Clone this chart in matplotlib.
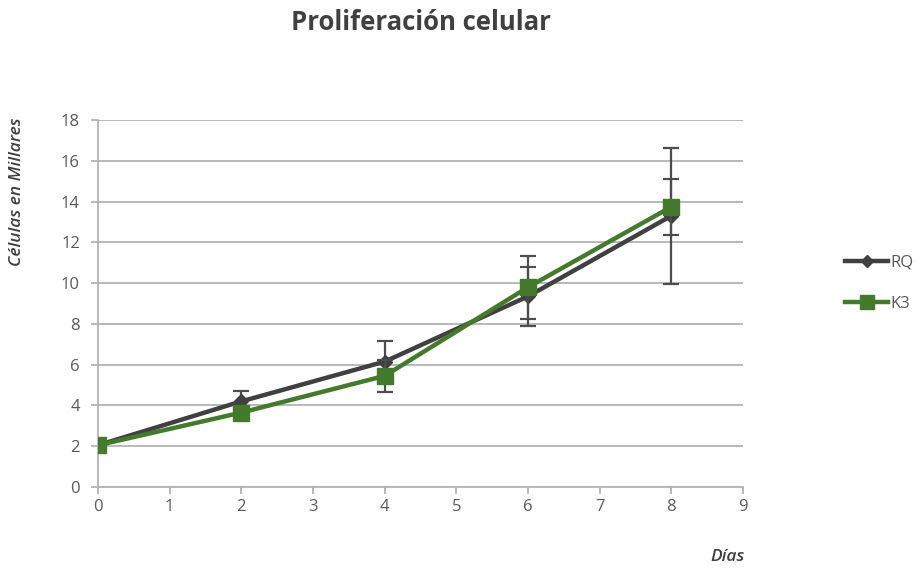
import matplotlib.pyplot as plt
from matplotlib.lines import Line2D

# datos
dias = [0, 2, 4, 6, 8]
rq = [2.05, 4.2, 6.15, 9.35, 13.3]
rq_err = [0.1, 0.5, 1.0, 1.45, 3.35]
k3 = [2.05, 3.65, 5.45, 9.8, 13.74]
k3_err = [0.05, 0.2, 0.8, 1.55, 1.39]

gris = '#404040'
verde = '#437a2b'
texto = '#595959'

plt.rcParams['font.family'] = ['Open Sans', 'DejaVu Sans']

fig = plt.figure(figsize=(9.17, 5.69), dpi=100)
ax = fig.add_axes([98 / 917, 1 - 487 / 569, (743 - 98) / 917, (487 - 120) / 569])

ax.errorbar(dias, rq, yerr=rq_err, color=gris, lw=3.2, marker='D', ms=7,
            ecolor='#4d4d4d', elinewidth=1.6, capsize=6, capthick=1.6, zorder=3)
ax.errorbar(dias, k3, yerr=k3_err, color=verde, lw=3.2, marker='s', ms=11,
            ecolor='#4d4d4d', elinewidth=1.6, capsize=6, capthick=1.6, zorder=4)

ax.set_xlim(0, 9)
ax.set_ylim(0, 18)
ax.set_xticks(range(10))
ax.set_yticks(range(0, 19, 2))
ax.yaxis.grid(True, color='#b3b3b3', lw=1.3)
ax.set_axisbelow(True)
for s in ['top', 'right']:
    ax.spines[s].set_visible(False)
for s in ['left', 'bottom']:
    ax.spines[s].set_color('#b3b3b3')
    ax.spines[s].set_linewidth(1.3)
ax.tick_params(colors='#b3b3b3', width=1.3, length=5, labelcolor=texto, labelsize=12)
ax.tick_params(axis='y', pad=8)

fig.text(421 / 917, 1 - 22 / 569, 'Proliferación celular', ha='center', va='center',
         fontsize=18.5, fontweight='bold', color=gris)
fig.text(17 / 917, 1 - 192 / 569, 'Células en Millares', rotation=90, ha='center', va='center',
         fontsize=12.5, fontweight='semibold', fontstyle='italic', color=gris)
fig.text(745 / 917, 1 - 557 / 569, 'Días', ha='right', va='center',
         fontsize=12.5, fontweight='semibold', fontstyle='italic', color=gris)

handles = [Line2D([], [], color=gris, lw=3.2, marker='D', ms=6),
           Line2D([], [], color=verde, lw=3.2, marker='s', ms=10)]
fig.legend(handles, ['RQ', 'K3'], loc='center left', bbox_to_anchor=(830 / 917, 1 - 283 / 569),
           frameon=False, fontsize=12, labelcolor=texto, handlelength=2.6,
           handletextpad=0.1, labelspacing=1.5)

fig.savefig('out.png', dpi=100)
